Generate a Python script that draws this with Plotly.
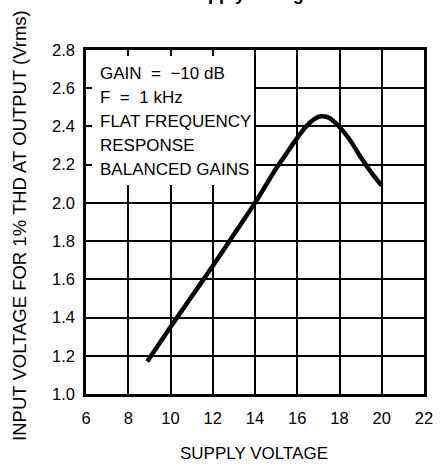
import plotly.graph_objects as go

# Data
supply_v = [8.9, 10, 11, 12, 13, 14, 15, 15.5, 16, 16.5, 17, 17.2, 17.5, 18, 18.5, 19, 19.5, 20]
input_v = [1.17, 1.35, 1.51, 1.67, 1.835, 2.0, 2.18, 2.26, 2.34, 2.41, 2.45, 2.453, 2.445, 2.397, 2.328, 2.24, 2.16, 2.09]

x_ticks = [6, 8, 10, 12, 14, 16, 18, 20, 22]
y_ticks = [1.0, 1.2, 1.4, 1.6, 1.8, 2.0, 2.2, 2.4, 2.6, 2.8]

box_lines = ["GAIN  =  \u221210 dB", "F  =  1 kHz", "FLAT FREQUENCY", "RESPONSE", "BALANCED GAINS"]
x_title = "SUPPLY VOLTAGE"
y_title = "INPUT VOLTAGE FOR 1% THD AT OUTPUT (Vrms)"
title = "Supply Voltage"

FONT = "Liberation Sans, Arial, sans-serif"

# plot-area geometry in pixels (for placing free text)
L, R, T, B = 86.5, 432.5, 50.0, 394.3
W, H = R - L, B - T


def px_x(p):
    return (p - L) / W


def px_y(p):
    return 1 - (p - T) / H


fig = go.Figure()
fig.add_trace(go.Scatter(
    x=supply_v, y=input_v, mode="lines",
    line=dict(color="black", width=4.5, shape="spline", smoothing=1.0),
    hoverinfo="skip", showlegend=False,
))

# white legend box hiding the grid in the upper-left corner
fig.add_shape(type="rect", xref="x", yref="y", x0=6, x1=13.95, y0=2.093, y1=2.8,
              fillcolor="white", line=dict(width=0), layer="between")

# text lines inside the box
for i, t in enumerate(box_lines):
    fig.add_annotation(text=t, xref="paper", yref="paper",
                       x=px_x(99.0), y=px_y(73.3 + i * 24.2),
                       xanchor="left", yanchor="middle", showarrow=False,
                       font=dict(family=FONT, size=17, color="black"))

# title (cut off at top in the reference)
fig.add_annotation(text="<b>" + title + "</b>", xref="paper", yref="paper",
                   x=px_x(254), y=1, yshift=44.5,
                   xanchor="center", yanchor="bottom", showarrow=False,
                   font=dict(family=FONT, size=18, color="black"))

# axis titles
fig.add_annotation(text=x_title, xref="paper", yref="paper",
                   x=px_x(258), y=px_y(454), xanchor="center", yanchor="middle",
                   showarrow=False, font=dict(family=FONT, size=17, color="black"))
fig.add_annotation(text=y_title, xref="paper", yref="paper", textangle=-90,
                   x=px_x(19), y=px_y(226), xanchor="center", yanchor="middle",
                   showarrow=False, font=dict(family=FONT, size=18.5, color="black"))

axis_common = dict(
    showgrid=True, gridcolor="black", gridwidth=1.5,
    showline=True, linecolor="black", linewidth=2.5, mirror="ticks",
    ticks="inside", ticklen=6, tickwidth=1.5, tickcolor="black",
    zeroline=False, tickfont=dict(family=FONT, size=16.5, color="black"),
)

fig.update_layout(
    width=443, height=468,
    margin=dict(l=86, r=10, t=50, b=74),
    paper_bgcolor="white", plot_bgcolor="white",
    xaxis=dict(range=[6, 22], tickvals=x_ticks, ticktext=[str(v) for v in x_ticks],
               ticklabelstandoff=7, **axis_common),
    yaxis=dict(range=[1.0, 2.8], tickvals=y_ticks, ticktext=[f"{v:.1f}" for v in y_ticks],
               ticklabelstandoff=5, **axis_common),
)

fig.write_html("out.html")
